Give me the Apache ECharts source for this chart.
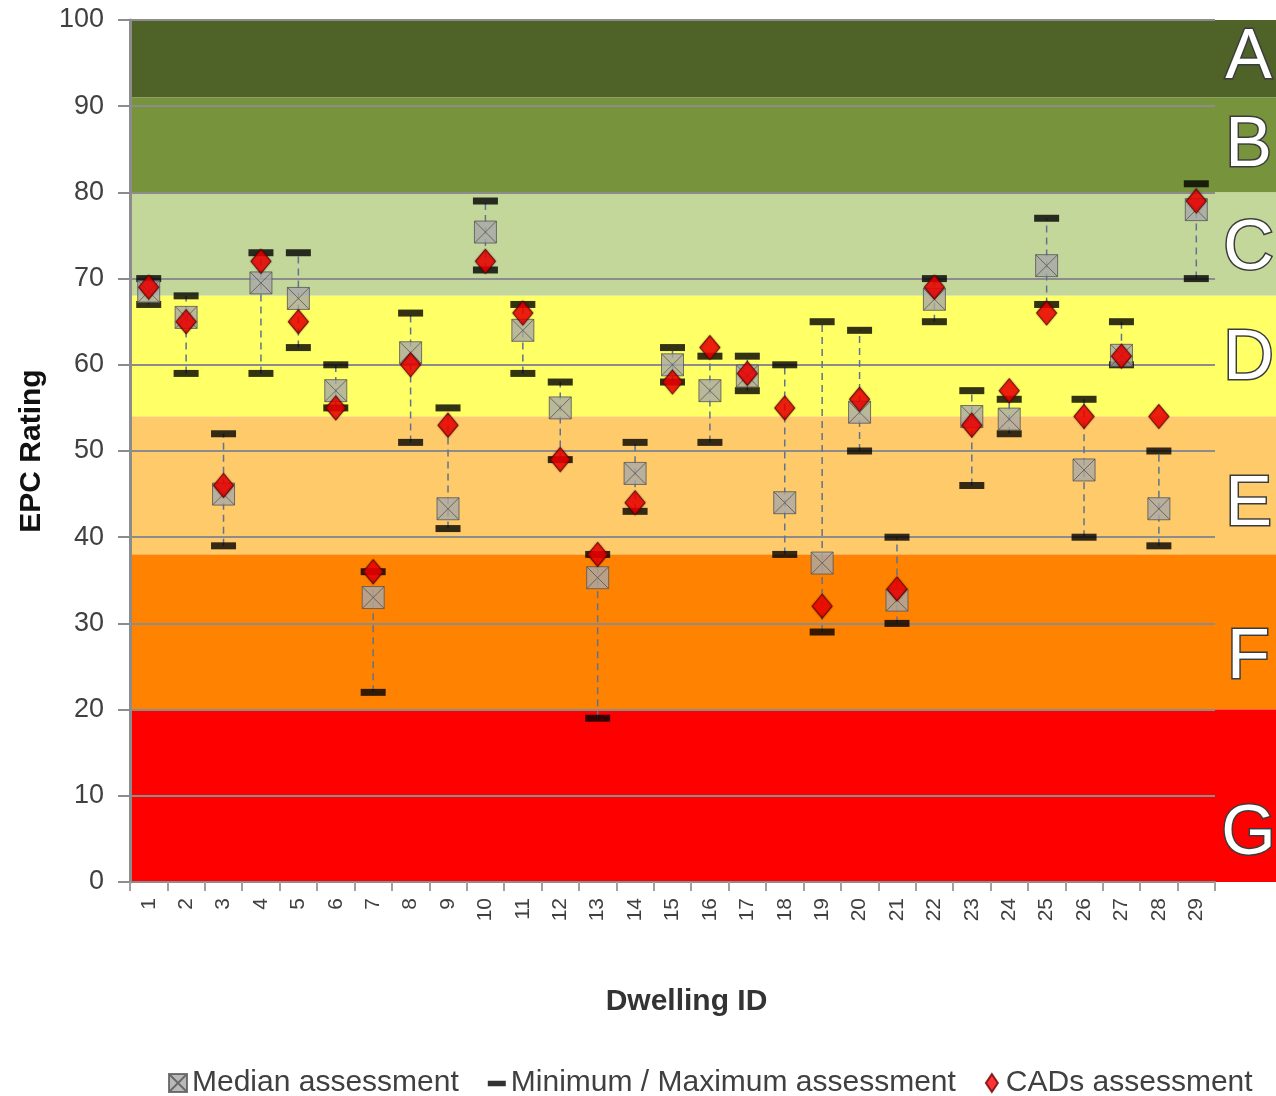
<!DOCTYPE html>
<html>
<head>
<meta charset="utf-8">
<script src="https://cdn.jsdelivr.net/npm/echarts@6/dist/echarts.min.js"></script>
<style>
html,body{margin:0;padding:0;background:#fff;}
#chart{width:1276px;height:1096px;}
</style>
</head>
<body>
<div id="chart"></div>
<script>
// ---- data ----
var categories = ['1','2','3','4','5','6','7','8','9','10','11','12','13','14','15','16','17','18','19','20','21','22','23','24','25','26','27','28','29'];
var medianVals = [68.5, 65.5, 45, 69.5, 67.7, 57, 33, 61.4, 43.3, 75.4, 64, 55, 35.3, 47.4, 60, 57, 58.7, 44, 37, 54.5, 32.7, 67.6, 54, 53.7, 71.5, 47.8, 61.1, 43.3, 78];
var minVals    = [67, 59, 39, 59, 62, 55, 22, 51, 41, 71, 59, 49, 19, 43, 58, 51, 57, 38, 29, 50, 30, 65, 46, 52, 67, 40, 60, 39, 70];
var maxVals    = [70, 68, 52, 73, 73, 60, 36, 66, 55, 79, 67, 58, 38, 51, 62, 61, 61, 60, 65, 64, 40, 70, 57, 56, 77, 56, 65, 50, 81];
var cadsVals   = [69, 65, 46, 72, 65, 55, 36, 60, 53, 72, 66, 49, 38, 44, 58, 62, 59, 55, 32, 56, 34, 69, 53, 57, 66, 54, 61, 54, 79];

var bandNames  = ['A','B','C','D','E','F','G'];
var bandLow    = [91, 80, 68, 54, 38, 20, 0];
var bandHigh   = [100, 91, 80, 68, 54, 38, 20];
var bandColors = ['#4F6228','#77933C','#C4D79B','#FFFF66','#FFCA6A','#FF8200','#FF0000'];
var letterY    = [95.5, 85.3, 73.4, 60.6, 43.6, 25.9, 5.5];
var yTicks     = [0,10,20,30,40,50,60,70,80,90,100];

// ---- chart ----
var FONT = '"Liberation Sans", Arial, sans-serif';
var chart = echarts.init(document.getElementById('chart'), null, {renderer:'canvas'});

var medianSymbol = 'path://M0,0 L10,0 L10,10 L0,10 Z M0,0 L10,10 M10,0 L0,10';
var barLegendIcon = 'path://M0,0 L0.01,0 M0,6 L16,6 L16,11 L0,11 Z M16,16 L16.01,16';
var diamondLegendIcon = 'path://M9,0 L15,9 L9,18 L3,9 Z';

function bandItem(params, api) {
  var cs = params.coordSys;
  var top = api.coord([0, api.value(1)])[1];
  var bot = api.coord([0, api.value(0)])[1];
  return {
    type: 'rect',
    shape: {x: cs.x, y: top, width: cs.width, height: bot - top},
    style: {fill: bandColors[params.dataIndex]}
  };
}
var bandData = bandLow.map(function (l, i) { return [l, bandHigh[i]]; });

var option = {
  animation: false,
  textStyle: {fontFamily: FONT},
  grid: [
    {left: 130, right: 61, top: 20, bottom: 214, containLabel: false, outerBoundsMode: 'none'},
    {left: 1215, right: 0, top: 20, bottom: 214, containLabel: false, outerBoundsMode: 'none'}
  ],
  xAxis: [
    {
      type: 'category', gridIndex: 0, data: categories, boundaryGap: true,
      axisLine: {lineStyle: {color: '#8c8c8c', width: 2}},
      axisTick: {show: true, length: 9, lineStyle: {color: '#a0a0a0', width: 2}},
      axisLabel: {rotate: 90, fontSize: 21, color: '#404040', margin: 16, fontFamily: FONT},
      name: 'Dwelling ID', nameLocation: 'middle', nameGap: 105, nameMoveOverlap: false,
      nameTextStyle: {fontSize: 30, fontWeight: 'bold', color: '#333333', fontFamily: FONT,
                      padding: [0, 0, 0, 28]},
      splitLine: {show: false}
    },
    {type: 'category', gridIndex: 1, data: ['x'], show: false}
  ],
  yAxis: [
    {
      type: 'value', gridIndex: 0, min: 0, max: 100, interval: 10,
      axisLine: {show: true, lineStyle: {color: '#8c8c8c', width: 3}},
      axisTick: {show: true, length: 12, lineStyle: {color: '#8c8c8c', width: 2}},
      axisLabel: {fontSize: 27, color: '#404040', margin: 26, fontFamily: FONT},
      splitLine: {show: true, lineStyle: {color: '#8c8c8c', width: 2}},
      name: 'EPC Rating', nameLocation: 'middle', nameGap: 83, nameMoveOverlap: false,
      nameTextStyle: {fontSize: 30, fontWeight: 'bold', color: '#111111', fontFamily: FONT}
    },
    {type: 'value', gridIndex: 1, min: 0, max: 100, show: false}
  ],
  legend: {
    left: 163, top: 1063,
    itemWidth: 18, itemHeight: 18, itemGap: 29,
    textStyle: {fontSize: 30, color: '#404040', fontFamily: FONT},
    data: [
      {name: 'Median assessment', icon: medianSymbol},
      {name: 'Minimum / Maximum assessment', icon: barLegendIcon},
      {name: 'CADs assessment', icon: diamondLegendIcon}
    ]
  },
  series: [
    {
      type: 'custom', name: 'bands', xAxisIndex: 0, yAxisIndex: 0, z: -1,
      silent: true, renderItem: bandItem, data: bandData, clip: false
    },
    {
      type: 'custom', name: 'bands2', xAxisIndex: 1, yAxisIndex: 1, z: -1,
      silent: true, renderItem: bandItem, data: bandData, clip: false
    },
    {
      type: 'custom', name: 'letters', xAxisIndex: 1, yAxisIndex: 1, z: 5,
      silent: true, clip: false,
      data: letterY.map(function (v, i) { return [0, v]; }),
      renderItem: function (params, api) {
        var cs = params.coordSys;
        var p = api.coord([0, api.value(1)]);
        return {
          type: 'text',
          style: {
            text: bandNames[params.dataIndex],
            x: cs.x + cs.width / 2 + 3, y: p[1],
            fill: '#ffffff', stroke: '#3c3c3c', lineWidth: 3,
            font: '70px ' + FONT,
            textAlign: 'center', textVerticalAlign: 'middle',
            shadowBlur: 4, shadowColor: 'rgba(0,0,0,0.6)', shadowOffsetX: 2, shadowOffsetY: 2
          }
        };
      }
    },
    {
      type: 'custom', name: 'range', xAxisIndex: 0, yAxisIndex: 0, z: 2, silent: true,
      data: categories.map(function (c, i) { return [i, minVals[i], maxVals[i]]; }),
      renderItem: function (params, api) {
        var a = api.coord([api.value(0), api.value(1)]);
        var b = api.coord([api.value(0), api.value(2)]);
        return {
          type: 'line',
          shape: {x1: a[0], y1: a[1], x2: b[0], y2: b[1]},
          style: {stroke: '#5E7490', lineWidth: 1.5, lineDash: [7, 5]}
        };
      }
    },
    {
      type: 'scatter', name: 'Minimum / Maximum assessment', z: 3,
      symbol: 'rect', symbolSize: [25, 7], data: minVals,
      itemStyle: {color: '#000000'}
    },
    {
      type: 'scatter', name: 'Minimum / Maximum assessment', z: 3,
      symbol: 'rect', symbolSize: [25, 7], data: maxVals,
      itemStyle: {color: '#000000'}
    },
    {
      type: 'scatter', name: 'Median assessment', z: 4,
      symbol: medianSymbol, symbolSize: 22, data: medianVals,
      itemStyle: {color: '#A8A8A8', borderColor: '#555555', borderWidth: 1}
    },
    {
      type: 'scatter', name: 'CADs assessment', z: 5,
      symbol: 'diamond', symbolSize: [20, 24], data: cadsVals,
      itemStyle: {color: '#FF0000', borderColor: '#6a0000', borderWidth: 1,
                  shadowBlur: 2, shadowColor: 'rgba(0,0,0,0.5)'}
    }
  ]
};
chart.setOption(option);
</script>
</body>
</html>
